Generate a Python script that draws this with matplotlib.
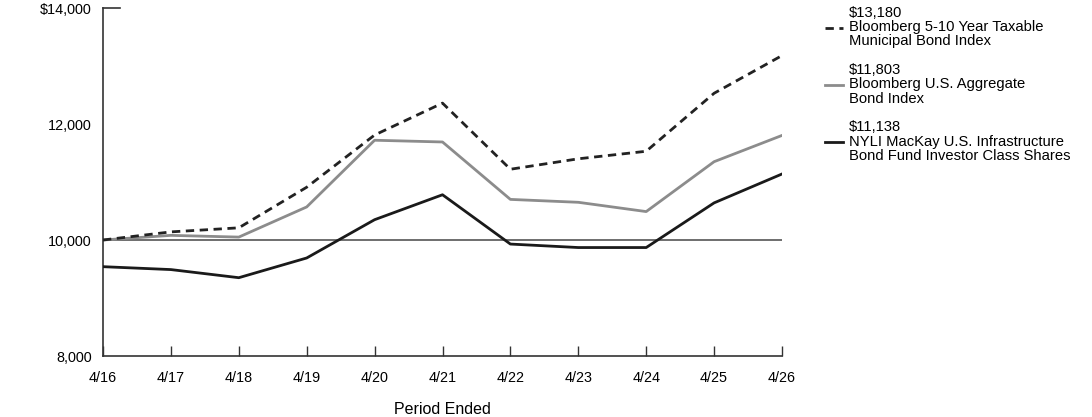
import numpy as np
import matplotlib.pyplot as plt

plt.rcParams['font.family'] = ['Liberation Sans', 'DejaVu Sans']

periods = ['4/16', '4/17', '4/18', '4/19', '4/20', '4/21', '4/22', '4/23', '4/24', '4/25', '4/26']
muni_index = [10000, 10140, 10210, 10910, 11810, 12360, 11220, 11400, 11530, 12530, 13180]
agg_index = [10000, 10080, 10050, 10570, 11720, 11690, 10700, 10650, 10490, 11350, 11803]
fund = [9540, 9490, 9350, 9690, 10350, 10780, 9930, 9870, 9870, 10640, 11138]

labels = ['$13,180\nBloomberg 5-10 Year Taxable\nMunicipal Bond Index',
          '$11,803\nBloomberg U.S. Aggregate\nBond Index',
          '$11,138\nNYLI MacKay U.S. Infrastructure\nBond Fund Investor Class Shares']

fs = 10.4

fig = plt.figure(figsize=(10.92, 4.17), dpi=100)
ax = fig.add_axes([103/1092, 1-356/417, (782-103)/1092, 348/417])

x = np.arange(len(periods))
ax.axhline(10000, color='#555555', lw=1.2, zorder=1)
ax.plot(x, muni_index, color='#222222', lw=2, ls=(0, (3, 2.0)), label=labels[0], zorder=3)
ax.plot(x, agg_index, color='#8c8c8c', lw=2, label=labels[1], zorder=2)
ax.plot(x, fund, color='#1a1a1a', lw=2, label=labels[2], zorder=3)

ax.set_xlim(0, len(periods)-1)
ax.set_ylim(8000, 14000)
ax.set_xticks(x)
ax.set_xticklabels(periods, fontsize=fs)
ax.set_yticks([8000, 10000, 12000, 14000])
ax.set_yticklabels(['8,000', '10,000', '12,000', '$14,000'], fontsize=fs)
ax.tick_params(axis='x', direction='in', length=7, width=1, color='#333333', pad=11)
ax.tick_params(axis='y', length=0, pad=8)
ax.axhline(14000, xmax=0.025, color='#333333', lw=1.2, clip_on=False)
for s in ['top', 'right']:
    ax.spines[s].set_visible(False)
for s in ['left', 'bottom']:
    ax.spines[s].set_color('#333333')
    ax.spines[s].set_linewidth(1.2)
ax.set_xlabel('Period Ended', fontsize=11.5, labelpad=12)

leg = ax.legend(loc='upper left', bbox_to_anchor=(825/1092, 1-6/417), bbox_transform=fig.transFigure,
                frameon=False, fontsize=10.6, handlelength=1.25, handletextpad=0.4,
                labelspacing=1.0, borderpad=0, borderaxespad=0)
for t in leg.get_texts():
    t.set_linespacing(1.02)

fig.savefig('out.png', dpi=100)
